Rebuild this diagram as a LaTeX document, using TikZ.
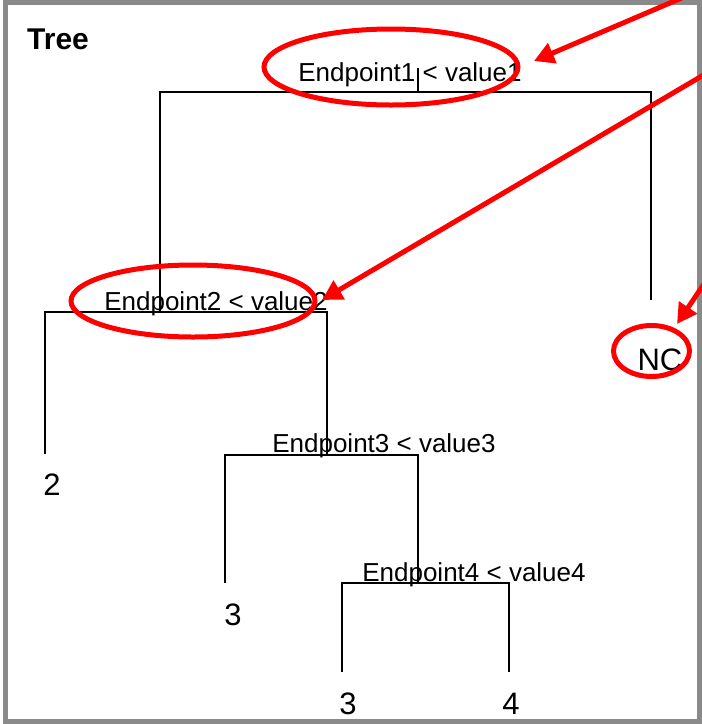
\documentclass[tikz,border=0pt]{standalone}
\usepackage{fontspec}
\setmainfont{Liberation Sans}
\usepackage{tikz}
\usetikzlibrary{arrows.meta}
\definecolor{framegray}{RGB}{138,138,138}
\tikzset{
    split/.style={font=\fontsize{26}{30}\selectfont, anchor=base, inner sep=0pt},
    leaf/.style={font=\fontsize{31}{36}\selectfont, anchor=base, inner sep=0pt},
    branch/.style={draw=black, line width=1.5pt},
    ring/.style={draw=red, line width=5pt},
    pointer/.style={draw=red, line width=5pt, -{Triangle[length=20pt, width=21pt]}},
}
\begin{document}
\begin{tikzpicture}[x=1pt, y=-1pt]
        \useasboundingbox (0,0) rectangle (702,724);
        \clip (0,0) rectangle (702,724);
        \draw[framegray, line width=5.5pt] (5.5,2.5) rectangle (699.5,721.5);
        \node [font=\bfseries\fontsize{30}{34}\selectfont, anchor=base west, inner sep=0pt] (title) at (27,49) {Tree};
        % split labels
        \node [split] (e1) at (410,81) {Endpoint1 < value1};
        \node [split] (e2) at (216,310) {Endpoint2 < value2};
        \node [split] (e3) at (384,452) {Endpoint3 < value3};
        \node [split] (e4) at (474,581) {Endpoint4 < value4};
        % leaves
        \node [leaf] (two) at (52,495) {2};
        \node [leaf] (three) at (233,625) {3};
        \node [leaf] (threeb) at (348,714) {3};
        \node [leaf] (four) at (511,714) {4};
        \node [leaf] (nc) at (660,370) {NC};
        % junctions and leaf ends
        \coordinate (s1) at (418,68);
        \coordinate (j1) at (418,92);
        \coordinate (j2) at (160,312);
        \coordinate (j3) at (327,455);
        \coordinate (j4) at (418,583);
        \coordinate (lnc) at (651,300);
        \coordinate (l2) at (45,454);
        \coordinate (l3) at (225,583);
        \coordinate (l3b) at (342,672);
        \coordinate (l4) at (509,672);
        \draw[branch] (s1) -- (j1);
        \draw[branch] (j2) |- (j1) -| (lnc);
        \draw[branch] (l2) |- (j2) -| (j3);
        \draw[branch] (l3) |- (j3) -| (j4);
        \draw[branch] (l3b) |- (j4) -| (l4);
        % red marks
        \draw[ring] (391,67) ellipse [x radius=127pt, y radius=38pt];
        \draw[ring] (193,301) ellipse [x radius=122pt, y radius=36pt];
        \draw[ring] (651.5,351) ellipse [x radius=38pt, y radius=25.5pt];
        \coordinate (p1) at (705,-12);
        \coordinate (t1) at (534,61);
        \coordinate (p2) at (712,70);
        \coordinate (t2) at (322,300);
        \coordinate (p3) at (708,278);
        \coordinate (t3) at (677,324);
        \draw[pointer] (p1) -- (t1);
        \draw[pointer] (p2) -- (t2);
        \draw[pointer] (p3) -- (t3);
    \end{tikzpicture}
\end{document}
